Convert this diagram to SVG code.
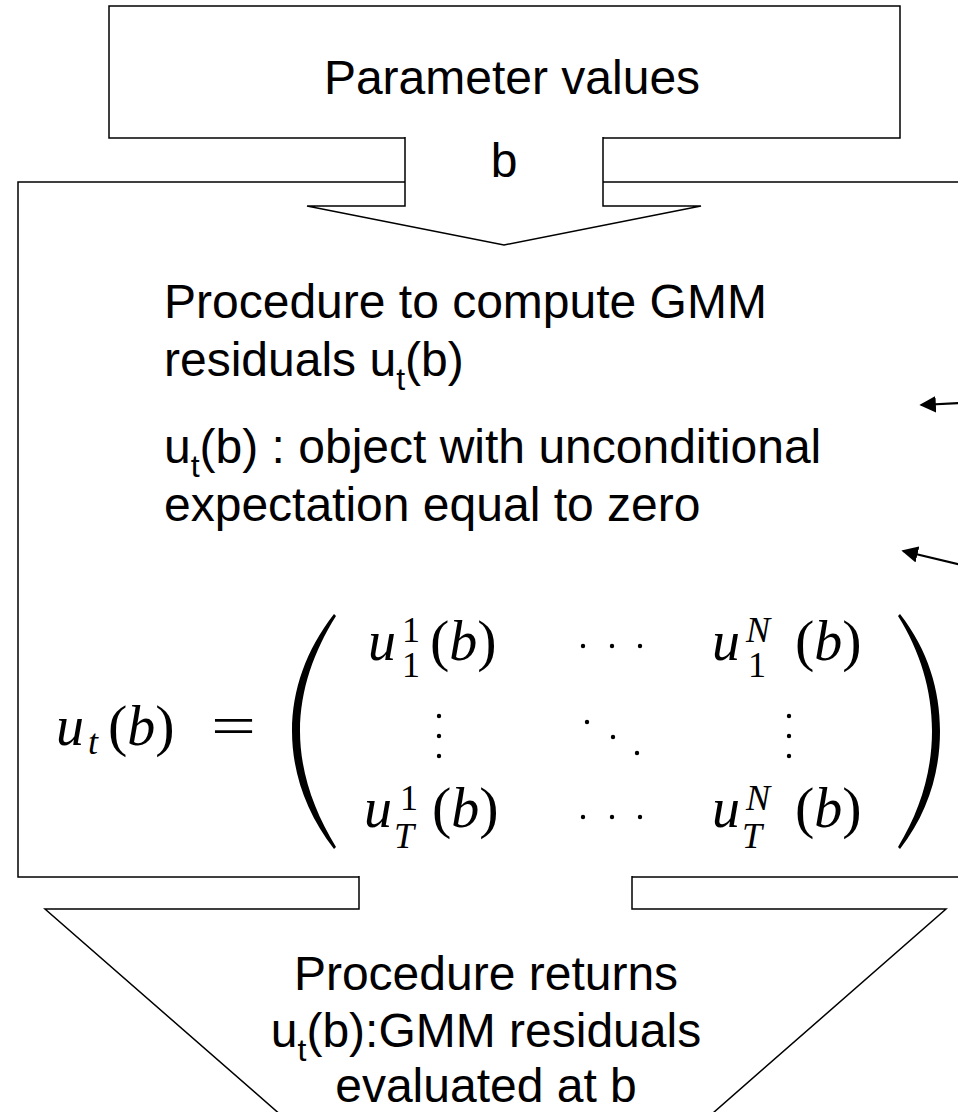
<svg xmlns="http://www.w3.org/2000/svg" width="958" height="1112" viewBox="0 0 958 1112">
<defs>
<style>
.box{fill:#fff;stroke:#000;stroke-width:1.5}
.t{font-family:"Liberation Sans",Arial,sans-serif;font-size:48px;fill:#000}
.sub{font-size:32px}
.mi{font-family:"Liberation Serif","Times New Roman",serif;font-style:italic;font-size:56px;fill:#000}
.mr{font-family:"Liberation Serif","Times New Roman",serif;font-size:58px;fill:#000}
.si{font-family:"Liberation Serif","Times New Roman",serif;font-style:italic;font-size:36px;fill:#000}
.sr{font-family:"Liberation Serif","Times New Roman",serif;font-size:36px;fill:#000}
.conn{stroke:#000;stroke-width:2.2;fill:none}
</style>
<marker id="ah" viewBox="0 0 10 10" refX="9" refY="5" markerWidth="7.5" markerHeight="7.5" markerUnits="strokeWidth" orient="auto">
<path d="M0,0 L10,5 L0,10 Z" fill="#000"/>
</marker>
</defs>

<g id="node-parameters">
<rect class="box" x="109" y="6" width="791" height="132"/>
<text class="t" x="512" y="94" text-anchor="middle">Parameter values</text>
</g>

<g id="node-procedure">
<rect class="box" x="18" y="182" width="960" height="695"/>
<text class="t" x="164" y="318">Procedure to compute GMM</text>
<text class="t" x="164" y="376">residuals u<tspan class="sub" dy="14">t</tspan><tspan dy="-14">(b)</tspan></text>
<text class="t" x="164" y="463">u<tspan class="sub" dy="14">t</tspan><tspan dy="-14">(b) : object with unconditional</tspan></text>
<text class="t" x="164" y="521">expectation equal to zero</text>
<g id="formula">
<text class="mi" x="56" y="745">u</text>
<text class="si" x="88" y="754">t</text>
<text class="mr" x="108" y="745">(<tspan class="mi">b</tspan>)</text>
<text class="mr" x="211" y="745" textLength="45" lengthAdjust="spacingAndGlyphs">=</text>
<path d="M334,614 C306,650 292,690 292,731 C292,772 306,813 334,849 L336,847 C314,811 300,772 300,731 C300,690 314,651 336,616 Z" fill="#000"/>
<path d="M900,614 C928,650 940,690 940,731 C940,772 928,813 900,849 L898,847 C920,811 932,772 932,731 C932,690 920,651 898,616 Z" fill="#000"/>
<text class="mi" x="368" y="660">u</text>
<text class="sr" x="402" y="642">1</text>
<text class="sr" x="402" y="677">1</text>
<text class="mr" x="430" y="660">(<tspan class="mi">b</tspan>)</text>
<text class="mi" x="712" y="660">u</text>
<text class="si" x="746" y="642">N</text>
<text class="sr" x="748" y="677">1</text>
<text class="mr" x="795" y="660">(<tspan class="mi">b</tspan>)</text>
<text class="mi" x="364" y="827">u</text>
<text class="sr" x="400" y="810">1</text>
<text class="si" x="394" y="848">T</text>
<text class="mr" x="432" y="827">(<tspan class="mi">b</tspan>)</text>
<text class="mi" x="712" y="827">u</text>
<text class="si" x="746" y="810">N</text>
<text class="si" x="742" y="848">T</text>
<text class="mr" x="795" y="827">(<tspan class="mi">b</tspan>)</text>
<g fill="#000">
<circle cx="583" cy="646" r="2.2"/><circle cx="612" cy="646" r="2.2"/><circle cx="640" cy="646" r="2.2"/>
<circle cx="583" cy="817" r="2.2"/><circle cx="612" cy="817" r="2.2"/><circle cx="640" cy="817" r="2.2"/>
<circle cx="439" cy="716" r="2.2"/><circle cx="439" cy="736" r="2.2"/><circle cx="439" cy="756" r="2.2"/>
<circle cx="789" cy="716" r="2.2"/><circle cx="789" cy="736" r="2.2"/><circle cx="789" cy="756" r="2.2"/>
<circle cx="587" cy="722" r="2.2"/><circle cx="613" cy="737" r="2.2"/><circle cx="637" cy="753" r="2.2"/>
</g>
</g>
</g>

<g id="node-input-arrow">
<path class="box" d="M405,137 L405,206 L307,206 L504,245 L701,206 L603,206 L603,137"/>
<text class="t" x="504" y="177" text-anchor="middle">b</text>
</g>

<g id="node-output-arrow">
<path class="box" d="M359,876 L359,909 L45,909 L496,1303 L946,909 L632,909 L632,876"/>
<text class="t" x="486" y="990" text-anchor="middle">Procedure returns</text>
<text class="t" x="486" y="1047" text-anchor="middle">u<tspan class="sub" dy="14">t</tspan><tspan dy="-14">(b):GMM residuals</tspan></text>
<text class="t" x="486" y="1102" text-anchor="middle">evaluated at b</text>
</g>

<g id="connectors">
<line class="conn" x1="962" y1="403" x2="921" y2="405" marker-end="url(#ah)"/>
<line class="conn" x1="962" y1="565" x2="903" y2="551" marker-end="url(#ah)"/>
</g>
</svg>
